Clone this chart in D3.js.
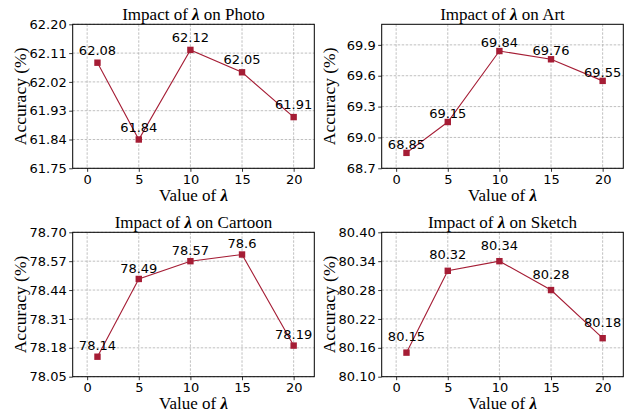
<!DOCTYPE html>
<html>
<head>
<meta charset="utf-8">
<script src="https://cdn.jsdelivr.net/npm/d3@7"></script>
<style>
  body { margin: 0; background: #fff; }
  svg { display: block; }
</style>
</head>
<body>
<div id="chart"></div>
<script>
// data
const lambdas = [1, 5, 10, 15, 20];
const xTicks = [0, 5, 10, 15, 20];

const photoAcc = [62.08, 61.84, 62.12, 62.05, 61.91];
const artAcc = [68.85, 69.15, 69.84, 69.76, 69.55];
const cartoonAcc = [78.14, 78.49, 78.57, 78.6, 78.19];
const sketchAcc = [80.15, 80.32, 80.34, 80.28, 80.18];

const photoTicks = [61.75, 61.84, 61.93, 62.02, 62.11, 62.2];
const artTicks = [68.7, 69.0, 69.3, 69.6, 69.9];
const cartoonTicks = [78.05, 78.18, 78.31, 78.44, 78.57, 78.7];
const sketchTicks = [80.1, 80.16, 80.22, 80.28, 80.34, 80.4];

const W = 628, H = 412;
const lineColor = "#a51d35";

const panels = [
  { name: "Photo", values: photoAcc, ticks: photoTicks, ydom: [61.75, 62.2], fmt: ".2f",
    box: { x0: 72.7, x1: 314.3, y0: 24.3, y1: 168.3 }, labelOff: 12.5 },
  { name: "Art", values: artAcc, ticks: artTicks, ydom: [68.7, 70.1], fmt: ".1f",
    box: { x0: 381.7, x1: 623.3, y0: 24.3, y1: 168.3 }, labelOff: 8.7 },
  { name: "Cartoon", values: cartoonAcc, ticks: cartoonTicks, ydom: [78.05, 78.7], fmt: ".2f",
    box: { x0: 72.7, x1: 314.3, y0: 232.3, y1: 376.7 }, labelOff: 11 },
  { name: "Sketch", values: sketchAcc, ticks: sketchTicks, ydom: [80.1, 80.4], fmt: ".2f",
    box: { x0: 381.7, x1: 623.3, y0: 232.3, y1: 376.7 }, labelOff: 16 },
];

const svg = d3.select("#chart").append("svg")
  .attr("width", W).attr("height", H);

const serif = "'Liberation Serif', 'Times New Roman', serif";
const sans = "'DejaVu Sans', sans-serif";

panels.forEach((p) => {
  const b = p.box;
  const x = d3.scaleLinear().domain([-1.4, 22]).range([b.x0, b.x1]);
  const y = d3.scaleLinear().domain(p.ydom).range([b.y1, b.y0]);
  const g = svg.append("g");

  // grid
  g.append("g").selectAll("line").data(xTicks).join("line")
    .attr("x1", (d) => x(d)).attr("x2", (d) => x(d))
    .attr("y1", b.y0).attr("y2", b.y1)
    .attr("stroke", "#b0b0b0").attr("stroke-width", 0.8)
    .attr("stroke-dasharray", "2.5,1.5");
  g.append("g").selectAll("line").data(p.ticks).join("line")
    .attr("x1", b.x0).attr("x2", b.x1)
    .attr("y1", (d) => y(d)).attr("y2", (d) => y(d))
    .attr("stroke", "#b0b0b0").attr("stroke-width", 0.8)
    .attr("stroke-dasharray", "2.5,1.5");

  // axes
  const xAxis = g.append("g")
    .attr("transform", `translate(0,${b.y1})`)
    .call(d3.axisBottom(x).tickValues(xTicks).tickSize(3.5).tickPadding(2.5));
  const yAxis = g.append("g")
    .attr("transform", `translate(${b.x0},0)`)
    .call(d3.axisLeft(y).tickValues(p.ticks).tickFormat(d3.format(p.fmt)).tickSize(3.5).tickPadding(2.5));
  [xAxis, yAxis].forEach((a) => {
    a.select(".domain").remove();
    a.selectAll("text").attr("font-family", sans).attr("font-size", 13).attr("fill", "#000");
    a.selectAll("line").attr("stroke", "#000").attr("stroke-width", 0.8);
  });

  // frame
  g.append("rect")
    .attr("x", b.x0).attr("y", b.y0)
    .attr("width", b.x1 - b.x0).attr("height", b.y1 - b.y0)
    .attr("fill", "none").attr("stroke", "#000").attr("stroke-width", 1);

  // line + markers
  const line = d3.line().x((d, i) => x(lambdas[i])).y((d) => y(d));
  g.append("path").datum(p.values)
    .attr("d", line).attr("fill", "none")
    .attr("stroke", lineColor).attr("stroke-width", 1.1);
  g.append("g").selectAll("rect").data(p.values).join("rect")
    .attr("x", (d, i) => x(lambdas[i]) - 3.2)
    .attr("y", (d) => y(d) - 3.2)
    .attr("width", 6.4).attr("height", 6.4)
    .attr("fill", lineColor);

  // value labels
  g.append("g").selectAll("text").data(p.values).join("text")
    .attr("x", (d, i) => x(lambdas[i]))
    .attr("y", (d) => y(d) - p.labelOff)
    .attr("dy", "0.35em")
    .attr("text-anchor", "middle")
    .attr("font-family", sans).attr("font-size", 13)
    .text((d) => d);

  // title
  const cx = (b.x0 + b.x1) / 2;
  const title = g.append("text")
    .attr("x", cx).attr("y", b.y0 - 4)
    .attr("text-anchor", "middle")
    .attr("font-family", serif).attr("font-size", 17);
  title.append("tspan").text("Impact of ");
  title.append("tspan").attr("font-style", "italic").attr("font-weight", "bold").text("λ");
  title.append("tspan").text(" on " + p.name);

  // x label
  const xl = g.append("text")
    .attr("x", cx).attr("y", b.y1 + 32.5)
    .attr("text-anchor", "middle")
    .attr("font-family", serif).attr("font-size", 17);
  xl.append("tspan").text("Value of ");
  xl.append("tspan").attr("font-style", "italic").attr("font-weight", "bold").text("λ");

  // y label
  g.append("text")
    .attr("transform", `translate(${b.x0 - 47},${(b.y0 + b.y1) / 2}) rotate(-90)`)
    .attr("text-anchor", "middle")
    .attr("font-family", serif).attr("font-size", 17.5)
    .text("Accuracy (%)");
});
</script>
</body>
</html>
